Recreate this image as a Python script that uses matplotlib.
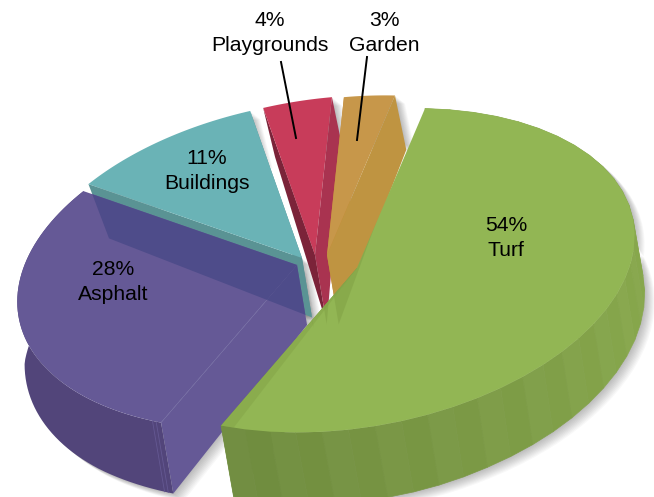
import numpy as np
import matplotlib
matplotlib.use("Agg")
import matplotlib.pyplot as plt
from matplotlib.colors import to_rgb
from matplotlib.patches import Polygon

plt.rcParams["font.family"] = ["Liberation Sans", "DejaVu Sans"]

names = ["Turf", "Asphalt", "Buildings", "Playgrounds", "Garden"]
shares = [54, 28, 11, 4, 3]

# Perspective of the pie plane: maps a unit direction to a spoke in canvas pixels.
PLANE = np.array([[69.0, 270.0], [-161.9, 6.0]])
TILT = np.array([0.015, 0.0])

# Where each exploded slice has its tip on the canvas.
tips = {"Turf": (357, 268), "Asphalt": (297, 265), "Buildings": (302, 258),
        "Playgrounds": (315, 255), "Garden": (327, 255)}

top_col = {"Turf": "#92b654", "Asphalt": "#655996", "Buildings": "#6ab3b6",
           "Playgrounds": "#c83c5a", "Garden": "#c7974a"}
start_wall = {"Turf": "#8aa94c", "Asphalt": "#655996", "Buildings": "#5a9394",
              "Playgrounds": "#7b2339", "Garden": "#ca8b34"}
end_wall = {"Turf": "#6f8c3e", "Asphalt": "#655996", "Buildings": "#5a9394",
            "Playgrounds": "#a93350", "Garden": "#bf9441"}

label_pos = {"Turf": (506, 238), "Asphalt": (113, 282), "Buildings": (207, 171),
             "Playgrounds": (270, 33), "Garden": (384, 33)}
leaders = {"Playgrounds": ((281, 62), (296, 138)), "Garden": ((367, 57), (357, 140))}

edges = np.deg2rad(np.cumsum([0] + shares) * 3.6)
span = {n: (edges[i], edges[i + 1]) for i, n in enumerate(names)}


def rim(name, angles):
    angles = np.atleast_1d(angles)
    q = np.c_[np.cos(angles), np.sin(angles)]
    return np.array(tips[name]) + (q @ PLANE.T) / (1 + q @ TILT)[:, None]


def lower(pts, stretch=1.0):
    # Drop a point of the top face to the bottom face; the drop shrinks with distance.
    pts = np.atleast_2d(pts)
    x, y = pts[:, 0], pts[:, 1]
    dx = (10 + np.clip(300 - x, 0, None) * 0.05 * np.clip((300 - y) / 100, 0, 1)
          - np.clip(150 - x, 0, None) * 0.02 * np.clip((y - 200) / 100, 0, 1)
          + np.clip(y - 400, 0, None) * 0.1)
    dy = 60 + (y - 266) * 0.07
    return pts + np.c_[dx, dy] * stretch


def face(ax, pts, color, z, **kw):
    patch = Polygon(pts, closed=True, facecolor=color, edgecolor="none", zorder=z, **kw)
    ax.add_patch(patch)
    return patch


def band(ax, pts, color, z):
    # A rim facet with a hairline edge of its own colour, so neighbours join without gaps.
    patch = Polygon(pts, closed=True, facecolor=color, edgecolor=color, lw=0.5, zorder=z)
    ax.add_patch(patch)


def mix(a, b, f):
    return tuple((1 - f) * np.array(to_rgb(a)) + f * np.array(to_rgb(b)))


fig = plt.figure(figsize=(6.54, 4.97), dpi=100)
ax = fig.add_axes([0, 0, 1, 1])
ax.set_xlim(0, 654)
ax.set_ylim(497, 0)
ax.axis("off")

# Soft drop shadow under the whole pie.
for name in names:
    a = np.linspace(*span[name], 60)
    outline = np.vstack([tips[name], rim(name, a), lower(rim(name, a))[::-1], lower(tips[name])])
    for k in range(1, 11):
        face(ax, outline + np.array([k * 1.0, k * 0.8]), "black", 1, alpha=0.026)

# Buildings slice.
tip = np.array([tips["Buildings"]], float)
a0, a1 = span["Buildings"]
b_start, b_end = rim("Buildings", a0), rim("Buildings", a1)
b_wall_left = np.vstack([tip, b_start, lower(b_start), lower(tip)])
b_wall_right = np.vstack([tip, b_end, lower(b_end), lower(tip)])
face(ax, b_wall_left, start_wall["Buildings"], 2)
face(ax, b_wall_right, end_wall["Buildings"], 2)
face(ax, np.vstack([tip, rim("Buildings", np.linspace(a0, a1, 40))]), top_col["Buildings"], 3)

# Asphalt slice.
a0, a1 = span["Asphalt"]
steps = np.linspace(a0, a1, 61)
tip = np.array([tips["Asphalt"]], float)
arc = rim("Asphalt", steps)
face(ax, np.vstack([arc, lower(arc)[::-1]]), "#52457a", 4)
cut = np.vstack([tip, rim("Asphalt", a0), lower(rim("Asphalt", a0)), lower(tip)])
face(ax, cut, end_wall["Asphalt"], 4)
asphalt_top = np.vstack([tip, arc])
face(ax, asphalt_top, top_col["Asphalt"], 5)
ax.plot(*np.vstack([tip, rim("Asphalt", a0)]).T, color="#7068a0", lw=0.5, zorder=6)
for nudge in (0.02, 0.035):
    seam = rim("Asphalt", a0 + nudge)
    ax.plot(*np.vstack([seam, lower(seam)]).T, color="#645892", lw=0.6, zorder=6)
# The buildings wall shows through the asphalt where the two overlap.
for region in (asphalt_top, cut):
    see_through = face(ax, b_wall_left, "#4e4c8a", 6)
    see_through.set_clip_path(Polygon(region, transform=ax.transData))

# The two narrow slices; their walls run deeper towards the tip.
for name, z, corner_stretch in (("Playgrounds", 8, 1.0), ("Garden", 10, 1.13)):
    a0, a1 = span[name]
    tip = np.array([tips[name]], float)
    deep = lower(tip, 1.17)
    first, last = rim(name, a0), rim(name, a1)
    face(ax, np.vstack([tip, first, lower(first, corner_stretch), deep]), start_wall[name], z)
    face(ax, np.vstack([tip, rim(name, np.linspace(a0, a1, 20))]), top_col[name], z + 1)
    face(ax, np.vstack([tip, last, lower(last, corner_stretch), deep]), end_wall[name], z + 1)

# Turf slice: rim facets run from dark at the near corner to light on the right.
a0, a1 = span["Turf"]
steps = np.linspace(a0, a1, 37)
tip = np.array([tips["Turf"]], float)
last = rim("Turf", a1)
face(ax, np.vstack([last, lower(last), lower(tip), tip]), end_wall["Turf"], 12)
for i in range(36):
    pair = rim("Turf", steps[i:i + 2])
    f = i / 35
    shade = mix("#8aaa4e", "#86a64b", f / 0.5) if f < 0.5 else mix("#86a64b", "#6f8c3e", (f - 0.5) / 0.5)
    shade = mix(shade, "#ffffff", 0.02 if i % 2 else 0.0)
    band(ax, np.vstack([pair, lower(pair)[::-1]]), shade, 12)
turf_top = np.vstack([tip, rim("Turf", steps)])
face(ax, turf_top, top_col["Turf"], 13)

# Tips of the neighbouring slices faintly visible through the turf.
for name in ("Buildings", "Playgrounds", "Garden"):
    t = np.array([tips[name]], float)
    corner = rim(name, span[name][1])
    ghost = face(ax, np.vstack([t, corner, lower(corner), lower(t, 1.17)]), "#7f9f44", 14, alpha=0.5)
    ghost.set_clip_path(Polygon(turf_top, transform=ax.transData))
face(ax, np.vstack([tip, rim("Turf", a1 - 0.05), last]), "#7f9f44", 14, alpha=0.4)

# Labels and leader lines.
for name, share in zip(names, shares):
    x, y = label_pos[name]
    ax.text(x, y, f"{share}%\n{name}", ha="center", va="center", fontsize=15.2,
            linespacing=1.36, color="black", zorder=20)
for (p0, p1) in leaders.values():
    ax.plot([p0[0], p1[0]], [p0[1], p1[1]], color="black", lw=1.4, zorder=21)

fig.savefig("out.png", dpi=100)
